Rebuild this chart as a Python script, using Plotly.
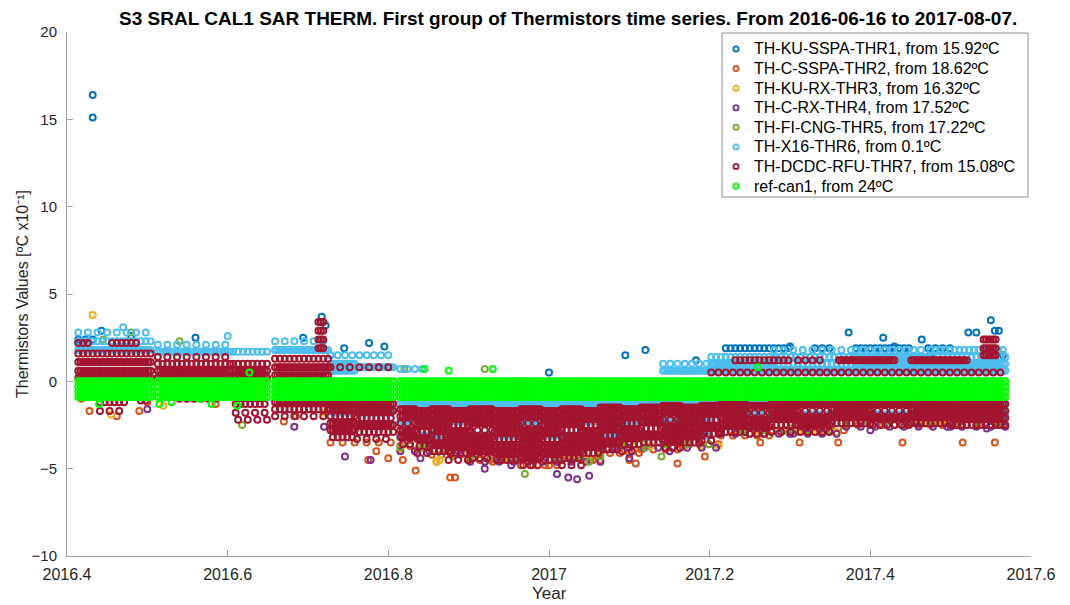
import numpy as np
import plotly.graph_objects as go

# ---------------------------------------------------------------------------
# Thermistor readings, offset-removed and scaled to [ºC x10^-1]
# Acquisition windows (decimal year) and the nominal sampling step
# ---------------------------------------------------------------------------
SEGMENTS = [
    (2016.414, 2016.506),
    (2016.513, 2016.603),
    (2016.607, 2016.650),
    (2016.659, 2016.808),
    (2016.815, 2017.568),
]
SAMPLE_STEP = 0.003

SERIES_NAMES = [
    "TH-KU-SSPA-THR1, from 15.92ºC",
    "TH-C-SSPA-THR2, from 18.62ºC",
    "TH-KU-RX-THR3, from 16.32ºC",
    "TH-C-RX-THR4, from 17.52ºC",
    "TH-FI-CNG-THR5, from 17.22ºC",
    "TH-X16-THR6, from 0.1ºC",
    "TH-DCDC-RFU-THR7, from 15.08ºC",
    "ref-can1, from 24ºC",
]
SERIES_COLORS = ["#0072BD", "#D95319", "#EDB120", "#7E2F8E",
                 "#77AC30", "#4DBEEE", "#A2142F", "#00FF00"]

# Quantised readings held over a time span: (start, end, levels, keep every n-th sample)
THR1_BLOCKS = [
    (2016.414, 2016.440, [2.4], 3),
    (2017.220, 2017.300, [1.9], 2),
    (2017.330, 2017.350, [1.9], 3),
    (2017.380, 2017.450, [1.9], 2),
    (2017.470, 2017.500, [1.9], 3),
]
THR1_T = [2016.432, 2016.432, 2016.443, 2016.480, 2016.486, 2016.560, 2016.694, 2016.717,
          2016.722, 2016.745, 2016.776, 2016.795, 2017.000, 2017.095, 2017.120, 2017.183,
          2017.300, 2017.373, 2017.416, 2017.430, 2017.464, 2017.475, 2017.522, 2017.532,
          2017.550, 2017.555, 2017.560, 2017.565]
THR1_V = [16.4, 15.1, 2.9, 2.6, 2.2, 2.5, 2.5, 3.7,
          3.2, 1.9, 2.2, 2.0, 0.5, 1.5, 1.8, 1.2,
          2.0, 2.8, 2.5, 2.0, 2.4, 1.6, 2.8, 2.8,
          3.5, 2.9, 2.9, 1.5]

THR2_BLOCKS = [
    (2016.815, 2016.852, [-3.7], 4),
    (2016.852, 2016.902, [-4.2], 4),
    (2016.902, 2016.964, [-4.5], 4),
    (2016.964, 2017.014, [-4.8], 5),
    (2017.014, 2017.064, [-4.5], 4),
    (2017.064, 2017.113, [-4.1], 4),
    (2017.113, 2017.163, [-3.9], 5),
    (2017.163, 2017.213, [-3.6], 4),
    (2017.213, 2017.275, [-3.1], 5),
    (2017.275, 2017.370, [-2.8], 5),
    (2017.370, 2017.568, [-2.5], 5),
    (2016.727, 2016.808, [-3.5], 5),
]
THR2_T = [2016.418, 2016.428, 2016.462, 2016.490, 2016.500, 2016.585, 2016.670, 2016.685,
          2016.775, 2016.785, 2016.800, 2016.818, 2016.834, 2016.860, 2016.877, 2016.883,
          2016.930, 2017.000, 2017.055, 2017.100, 2017.108, 2017.160, 2017.175, 2017.194,
          2017.263, 2017.312, 2017.360, 2017.440, 2017.515, 2017.555]
THR2_V = [-1.0, -1.7, -2.0, -1.7, -1.2, -1.3, -2.3, -2.0,
          -4.5, -4.0, -4.4, -4.5, -5.1, -4.6, -5.5, -5.5,
          -4.6, -4.8, -4.5, -4.5, -4.7, -4.7, -3.3, -4.3,
          -3.5, -3.5, -3.5, -3.5, -3.5, -3.5]

THR3_BLOCKS = [
    (2016.815, 2016.902, [-3.9], 7),
    (2016.902, 2017.064, [-4.4], 7),
    (2017.064, 2017.213, [-3.7], 7),
    (2017.213, 2017.370, [-2.9], 8),
    (2017.370, 2017.568, [-2.4], 8),
]
THR3_T = [2016.432, 2016.455, 2016.520, 2016.720, 2016.860, 2016.864, 2016.900, 2016.950,
          2017.090, 2017.180, 2017.250, 2017.550]
THR3_V = [3.8, -1.9, -1.4, -1.8, -4.6, -4.5, -4.3, -4.2,
          -3.5, -3.0, -2.6, -1.0]

THR4_BLOCKS = [
    (2016.815, 2016.902, [-4.0], 6),
    (2016.902, 2017.064, [-4.6], 6),
    (2017.064, 2017.213, [-3.8], 6),
    (2017.213, 2017.370, [-3.0], 6),
    (2017.370, 2017.568, [-2.6], 6),
]
THR4_T = [2016.500, 2016.683, 2016.720, 2016.746, 2016.778, 2016.840, 2016.920, 2016.953,
          2017.010, 2017.024, 2017.035, 2017.050, 2017.100, 2017.150, 2017.300, 2017.400,
          2017.500, 2017.545, 2017.560]
THR4_V = [-1.6, -2.6, -2.6, -4.3, -4.5, -4.4, -5.0, -4.8,
          -5.3, -5.5, -5.6, -5.4, -4.4, -4.0, -3.0, -2.8,
          -2.6, -2.7, -2.5]

THR5_BLOCKS = [
    (2016.815, 2016.902, [-3.8], 9),
    (2016.902, 2017.064, [-4.3], 9),
    (2017.064, 2017.213, [-3.6], 9),
    (2017.213, 2017.370, [-2.8], 9),
    (2017.370, 2017.568, [-2.3], 9),
]
THR5_T = [2016.445, 2016.480, 2016.540, 2016.618, 2016.619, 2016.820, 2016.880, 2016.920,
          2016.970, 2017.050, 2017.120, 2017.140, 2017.300]
THR5_V = [2.4, 2.8, 2.3, -2.5, -0.7, 0.7, -4.3, 0.7,
          -5.3, -4.6, -3.8, -4.3, -2.7]

THR6_BLOCKS = [
    (2016.414, 2016.506, [1.8], 1),
    (2016.414, 2016.506, [2.3], 2),
    (2016.414, 2016.506, [2.8], 4),
    (2016.513, 2016.603, [1.7], 1),
    (2016.513, 2016.603, [2.1], 4),
    (2016.607, 2016.650, [1.7], 2),
    (2016.659, 2016.727, [1.8], 1),
    (2016.659, 2016.727, [2.3], 4),
    (2016.727, 2016.760, [1.0, 0.6], 1),
    (2016.760, 2016.808, [0.8], 1),
    (2016.727, 2016.808, [1.5], 3),
    (2016.727, 2016.808, [-1.3, -1.8], 2),
    (2016.815, 2017.140, [-1.3], 1),
    (2016.815, 2017.200, [-2.3, -3.1], 1),
    (2016.815, 2016.850, [0.7], 3),
    (2017.140, 2017.200, [0.6], 1),
    (2017.140, 2017.200, [1.0], 3),
    (2017.140, 2017.200, [-1.3], 1),
    (2017.200, 2017.280, [0.6, 1.0], 1),
    (2017.200, 2017.280, [1.4], 2),
    (2017.280, 2017.380, [0.6], 1),
    (2017.280, 2017.380, [1.0, 1.4], 2),
    (2017.280, 2017.380, [1.8], 4),
    (2017.380, 2017.470, [0.6, 1.0, 1.4], 1),
    (2017.380, 2017.470, [1.8], 3),
    (2017.470, 2017.568, [0.6, 1.0], 1),
    (2017.470, 2017.568, [1.4, 1.8], 2),
    (2017.200, 2017.568, [-1.3, -1.9], 1),
]
THR6_T = [2016.470, 2016.600]
THR6_V = [3.1, 2.6]

THR7_BLOCKS = [
    # first window
    (2016.414, 2016.430, [2.2], 2),
    (2016.455, 2016.490, [2.2], 2),
    (2016.414, 2016.506, [1.1, 0.6, 0.2], 1),
    (2016.414, 2016.506, [1.6], 2),
    (2016.440, 2016.475, [-1.2], 2),
    (2016.440, 2016.475, [-1.7], 4),
    (2016.490, 2016.500, [-1.1], 2),
    # second and third windows
    (2016.513, 2016.603, [0.6, 0.2], 1),
    (2016.513, 2016.603, [1.0], 2),
    (2016.513, 2016.603, [1.4], 4),
    (2016.540, 2016.590, [-1.0], 3),
    (2016.607, 2016.650, [0.6, 0.2], 1),
    (2016.607, 2016.650, [1.0], 2),
    (2016.610, 2016.650, [-1.3], 2),
    (2016.610, 2016.650, [-1.8, -2.2], 4),
    # fourth window
    (2016.659, 2016.727, [0.8, 0.35], 1),
    (2016.659, 2016.727, [1.3], 2),
    (2016.659, 2016.727, [-1.2], 1),
    (2016.659, 2016.727, [-1.6], 2),
    (2016.659, 2016.727, [-2.0], 4),
    (2016.712, 2016.720, [3.4, 2.9, 2.4, 1.9], 1),
    (2016.727, 2016.808, [0.8], 4),
    (2016.727, 2016.760, [-1.2, -1.6, -2.4, -2.8], 1),
    (2016.727, 2016.760, [-2.0, -3.2], 2),
    (2016.760, 2016.808, [-1.3, -1.7, -2.5], 1),
    (2016.760, 2016.808, [-2.1, -2.9], 2),
    (2016.760, 2016.808, [-3.3], 4),
    # long window: mass below the reference
    (2016.815, 2016.835, [-1.6, -2.0, -2.8, -3.2], 1),
    (2016.815, 2016.835, [-2.4, -3.6], 3),
    (2016.835, 2016.852, [-1.7, -2.1, -2.5, -3.3], 1),
    (2016.835, 2016.852, [-2.9, -3.7], 2),
    (2016.835, 2016.852, [-4.1], 4),
    (2016.852, 2016.875, [-1.6, -2.0, -2.4, -2.8, -3.6], 1),
    (2016.852, 2016.875, [-3.2, -4.0], 2),
    (2016.875, 2016.902, [-1.7, -2.1, -2.9, -3.3, -3.7], 1),
    (2016.875, 2016.902, [-2.5, -4.1], 2),
    (2016.875, 2016.902, [-4.5], 4),
    (2016.902, 2016.930, [-1.6, -2.0, -2.4, -3.2, -3.6, -4.0], 1),
    (2016.902, 2016.930, [-2.8, -4.4], 3),
    (2016.930, 2016.964, [-1.7, -2.1, -2.5, -2.9, -3.7, -4.1], 1),
    (2016.930, 2016.964, [-3.3, -4.5], 2),
    (2016.964, 2016.990, [-1.6, -2.0, -2.8, -3.2, -3.6, -4.0, -4.4], 1),
    (2016.964, 2016.990, [-2.4, -4.8], 3),
    (2016.990, 2017.014, [-1.7, -2.1, -2.5, -2.9, -3.7, -4.1], 1),
    (2016.990, 2017.014, [-3.3, -4.5], 2),
    (2017.014, 2017.040, [-1.6, -2.0, -2.4, -3.2, -3.6, -4.0], 1),
    (2017.014, 2017.040, [-2.8, -4.4], 2),
    (2017.014, 2017.040, [-4.8], 4),
    (2017.040, 2017.064, [-1.7, -2.1, -2.9, -3.3, -3.7], 1),
    (2017.040, 2017.064, [-2.5, -4.1], 2),
    (2017.064, 2017.090, [-1.5, -1.9, -2.3, -2.7, -3.5], 1),
    (2017.064, 2017.090, [-3.1, -3.9], 2),
    (2017.090, 2017.113, [-1.6, -2.0, -2.8, -3.2], 1),
    (2017.090, 2017.113, [-2.4, -3.6], 2),
    (2017.090, 2017.113, [-4.0], 4),
    (2017.113, 2017.140, [-1.5, -1.9, -2.3, -3.1], 1),
    (2017.113, 2017.140, [-2.7, -3.5], 2),
    (2017.140, 2017.163, [-1.4, -1.8, -2.6, -3.0, -3.4], 1),
    (2017.140, 2017.163, [-2.2, -3.8], 3),
    (2017.163, 2017.190, [-1.5, -1.9, -2.3, -2.7, -3.1], 1),
    (2017.163, 2017.190, [-3.5], 2),
    (2017.190, 2017.213, [-1.4, -1.8, -2.6], 1),
    (2017.190, 2017.213, [-2.2, -3.0], 2),
    (2017.190, 2017.213, [-3.4], 4),
    (2017.213, 2017.245, [-1.3, -1.7, -2.1, -2.5], 1),
    (2017.213, 2017.245, [-2.9], 2),
    (2017.245, 2017.275, [-1.4, -2.2, -2.6], 1),
    (2017.245, 2017.275, [-1.8, -3.0], 3),
    (2017.275, 2017.310, [-1.3, -1.7, -2.1], 1),
    (2017.275, 2017.310, [-2.5], 2),
    (2017.275, 2017.310, [-2.9], 4),
    (2017.310, 2017.350, [-1.3, -2.1, -2.5], 1),
    (2017.310, 2017.350, [-1.7, -2.9], 3),
    (2017.350, 2017.400, [-1.2, -1.6, -2.0], 1),
    (2017.350, 2017.400, [-2.4], 2),
    (2017.400, 2017.450, [-1.3, -2.1], 1),
    (2017.400, 2017.450, [-1.7, -2.5], 3),
    (2017.450, 2017.500, [-1.2, -1.6, -2.0], 1),
    (2017.450, 2017.500, [-2.4], 2),
    (2017.500, 2017.568, [-1.3, -1.7, -2.1], 1),
    (2017.500, 2017.568, [-2.5], 2),
    # long window: readings above the reference
    (2017.230, 2017.300, [1.2], 2),
    (2017.310, 2017.340, [1.2], 3),
    (2017.360, 2017.430, [1.2], 1),
    (2017.450, 2017.520, [1.2], 1),
    (2017.200, 2017.568, [0.5], 3),
    (2017.540, 2017.556, [2.4, 1.9, 1.5], 1),
]
THR7_T = []
THR7_V = []

REF_BLOCKS = [
    (2016.414, 2016.506, [0.0, -0.3, -0.6, -0.9], 1),
    (2016.513, 2016.603, [0.0, -0.3, -0.6, -0.9], 1),
    (2016.607, 2016.650, [0.0, -0.3, -0.6, -0.9], 1),
    (2016.659, 2016.808, [0.0, -0.3, -0.6, -0.9], 1),
    (2016.815, 2017.568, [0.0, -0.3, -0.6, -0.9], 1),
]
REF_T = [2016.440, 2016.515, 2016.530, 2016.565, 2016.580, 2016.612, 2016.627, 2016.845,
         2016.875, 2016.930, 2017.260]
REF_V = [-1.3, -1.3, -1.2, -1.0, -1.3, -1.4, 0.5, 0.7,
         0.6, 0.7, 0.8]


def sample_times():
    return np.concatenate([np.arange(a, b + 1e-9, SAMPLE_STEP) for a, b in SEGMENTS])


T = sample_times()


def expand(blocks, extra_t, extra_v):
    xs, ys = [], []
    for t0, t1, levels, nth in blocks:
        span = T[(T >= t0 - 1e-9) & (T <= t1 + 1e-9)]
        for k, lv in enumerate(levels):
            sel = span[(k % nth)::nth]
            xs.extend(sel.tolist())
            ys.extend([lv] * len(sel))
    xs.extend(extra_t)
    ys.extend(extra_v)
    return xs, ys


SERIES_DATA = [
    (THR1_BLOCKS, THR1_T, THR1_V),
    (THR2_BLOCKS, THR2_T, THR2_V),
    (THR3_BLOCKS, THR3_T, THR3_V),
    (THR4_BLOCKS, THR4_T, THR4_V),
    (THR5_BLOCKS, THR5_T, THR5_V),
    (THR6_BLOCKS, THR6_T, THR6_V),
    (THR7_BLOCKS, THR7_T, THR7_V),
    (REF_BLOCKS, REF_T, REF_V),
]

X_TICKS = [2016.4, 2016.6, 2016.8, 2017.0, 2017.2, 2017.4, 2017.6]
X_TICK_TEXT = ["2016.4", "2016.6", "2016.8", "2017", "2017.2", "2017.4", "2017.6"]
Y_TICKS = [-10, -5, 0, 5, 10, 15, 20]

fig = go.Figure()
for name, color, (blocks, et, ev) in zip(SERIES_NAMES, SERIES_COLORS, SERIES_DATA):
    xs, ys = expand(blocks, et, ev)
    fig.add_trace(go.Scatter(
        x=xs, y=ys, mode="markers", name=name, showlegend=False,
        marker=dict(symbol="circle-open", size=6, color=color,
                    line=dict(width=2, color=color)),
    ))

AXIS_GREY = "#a0a0a0"
LABEL_GREY = "#262626"
NARROW = "Liberation Sans Narrow, Arial Narrow, Liberation Sans, Arial, sans-serif"
REGULAR = "Liberation Sans, Arial, sans-serif"

# Boxed key in the upper-right corner of the axes (paper coordinates)
KEY_LEFT, KEY_RIGHT, KEY_BOTTOM, KEY_TOP = 0.6795, 0.9969, 0.685, 0.998
KEY_MARK_X, KEY_TEXT_X = 0.694, 0.7106
KEY_FIRST_Y, KEY_ROW_STEP = 0.9676, 0.0374

shapes = [dict(type="rect", xref="paper", yref="paper", x0=KEY_LEFT, x1=KEY_RIGHT,
               y0=KEY_BOTTOM, y1=KEY_TOP, fillcolor="white",
               line=dict(color="#8c8c8c", width=1), layer="above")]
annotations = []
for i, (name, color) in enumerate(zip(SERIES_NAMES, SERIES_COLORS)):
    yk = KEY_FIRST_Y - i * KEY_ROW_STEP
    shapes.append(dict(type="circle", xref="paper", yref="paper",
                       xsizemode="pixel", ysizemode="pixel",
                       xanchor=KEY_MARK_X, yanchor=yk, x0=-2.6, x1=2.6, y0=-2.6, y1=2.6,
                       line=dict(color=color, width=1.8), fillcolor="rgba(0,0,0,0)",
                       layer="above"))
    annotations.append(dict(text=name, xref="paper", yref="paper", x=KEY_TEXT_X, y=yk,
                            xanchor="left", yanchor="middle", showarrow=False,
                            font=dict(family=REGULAR, size=16, color="#000000")))

# Axis titles
annotations.append(dict(text="Year", xref="paper", yref="paper", x=0.5, y=-0.0725,
                        xanchor="center", yanchor="middle", showarrow=False,
                        font=dict(family=NARROW, size=17, color=LABEL_GREY)))
annotations.append(dict(text="Thermistors Values [ºC x10⁻¹]", xref="paper",
                        yref="paper", x=-0.0467, y=0.5, xanchor="center", yanchor="middle",
                        textangle=-90, showarrow=False,
                        font=dict(family=REGULAR, size=16, color=LABEL_GREY)))

fig.update_layout(
    width=1070, height=605,
    margin=dict(l=67, r=39, t=32, b=49),
    paper_bgcolor="white", plot_bgcolor="white",
    showlegend=False,
    title=dict(
        text="<b>S3 SRAL CAL1 SAR THERM. First group of Thermistors time series. From 2016-06-16 to 2017-08-07.</b>",
        x=0.531, xanchor="center", xref="container",
        y=0.970, yanchor="middle", yref="container",
        font=dict(family=NARROW, size=19, color="#000000"),
    ),
    xaxis=dict(
        range=[2016.4, 2017.6], tickmode="array", tickvals=X_TICKS, ticktext=X_TICK_TEXT,
        showgrid=False, zeroline=False, showline=True, linecolor=AXIS_GREY, linewidth=1,
        ticks="inside", ticklen=6, tickcolor=AXIS_GREY, ticklabelstandoff=4,
        tickfont=dict(family=NARROW, size=16, color=LABEL_GREY), automargin=False,
    ),
    yaxis=dict(
        range=[-10, 20], tickmode="array", tickvals=Y_TICKS,
        showgrid=False, zeroline=False, showline=True, linecolor=AXIS_GREY, linewidth=1,
        ticks="inside", ticklen=6, tickcolor=AXIS_GREY, ticklabelstandoff=6,
        tickfont=dict(family=REGULAR, size=15, color=LABEL_GREY), automargin=False,
    ),
    shapes=shapes,
    annotations=annotations,
)

fig.write_html("out.html")
